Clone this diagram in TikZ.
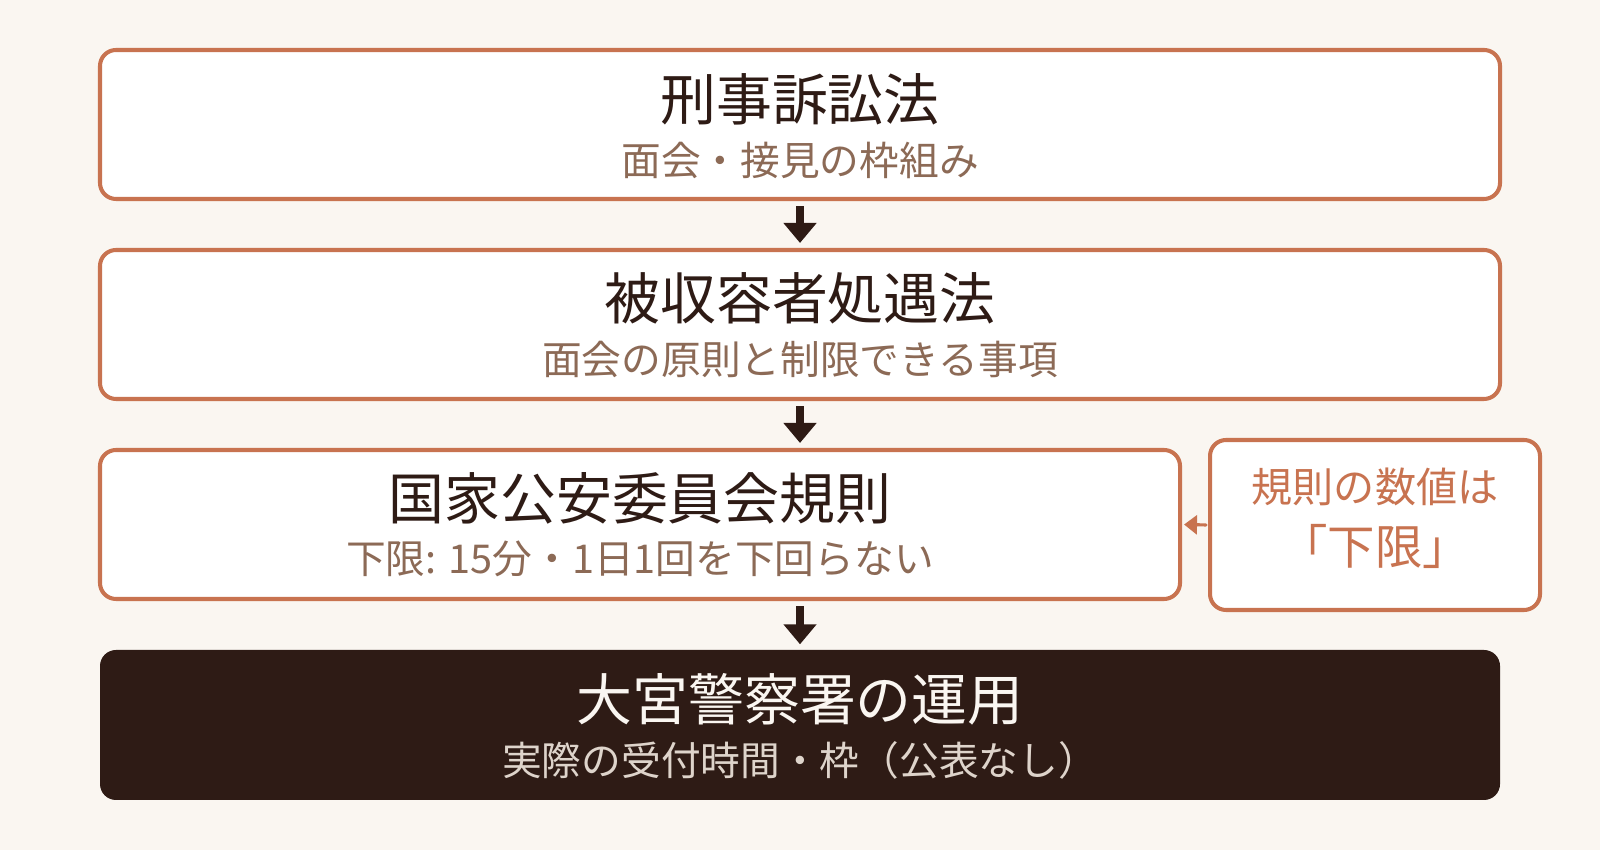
\documentclass[tikz,border=0pt]{standalone}
\usepackage{fontspec}
\setmainfont{Noto Sans CJK JP}
\usetikzlibrary{arrows.meta}
\begin{document}
\begin{tikzpicture}[line cap=round, line join=round,
    lawbox/.style={draw=rust, line width=1.15pt, fill=white, rounded corners=0.16cm,
      minimum height=1.49cm, inner sep=0pt},
    title/.style={font=\fontsize{15.9}{18}\selectfont, text=ink, inner sep=0pt},
    sub/.style={font=\fontsize{11.3}{14}\selectfont, text=mocha, inner sep=0pt},
    flow/.style={ink, line width=2.3pt, line cap=butt,
      -{Triangle[width=0.32cm, length=0.2cm]}, shorten >=0.05cm, shorten <=0.05cm}]
  \definecolor{cream}{RGB}{250,246,241}
  \definecolor{rust}{RGB}{200,115,80}
  \definecolor{ink}{RGB}{46,27,21}
  \definecolor{mocha}{RGB}{140,106,86}
  \definecolor{ash}{RGB}{222,212,203}
  \fill[cream] (0,0) rectangle (16,-8.5);
  \useasboundingbox (0,0) rectangle (16,-8.5);
  % boxes
  \node[lawbox, minimum width=14cm] (crim) at (8,-1.245) {};
  \node[lawbox, minimum width=14cm] (det) at (8,-3.245) {};
  \node[lawbox, minimum width=10.8cm] (rule) at (6.4,-5.245) {};
  \node[lawbox, minimum width=3.3cm, minimum height=1.7cm] (note) at (13.75,-5.25) {};
  \node[fill=ink, rounded corners=0.16cm, minimum width=14cm, minimum height=1.5cm,
    inner sep=0pt] (ops) at (8,-7.25) {};
  % texts
  \node[title] (crimT) at (8,-0.99) {刑事訴訟法};
  \node[sub] (crimS) at (8,-1.60) {面会・接見の枠組み};
  \node[title] (detT) at (8,-2.98) {被収容者処遇法};
  \node[sub] (detS) at (8,-3.59) {面会の原則と制限できる事項};
  \node[title] (ruleT) at (6.4,-4.98) {国家公安委員会規則};
  \node[sub] (ruleS) at (6.4,-5.59) {下限: 15分・1日1回を下回らない};
  \node[font=\fontsize{11.7}{14}\selectfont, text=rust, inner sep=0pt] (noteA) at (13.75,-4.87) {規則の数値は};
  \node[font=\fontsize{13.5}{16}\selectfont, text=rust, inner sep=0pt] (noteB) at (13.75,-5.46) {「下限」};
  \node[title, text=cream] (opsT) at (8,-6.99) {大宮警察署の運用};
  \node[sub, text=ash] (opsS) at (8,-7.60) {実際の受付時間・枠（公表なし）};
  % arrows (straight down the middle column)
  \foreach \a/\b in {crim/det,det/rule,rule/ops}{
    \draw[flow] (crim.south |- \a.south) -- (crim.south |- \b.north);
  }
  \draw[rust, line width=0.9pt, -{Triangle[width=0.19cm, length=0.13cm]},
    shorten <=0.02cm, shorten >=0.02cm] (note.west) -- (rule.east);
\end{tikzpicture}
\end{document}
